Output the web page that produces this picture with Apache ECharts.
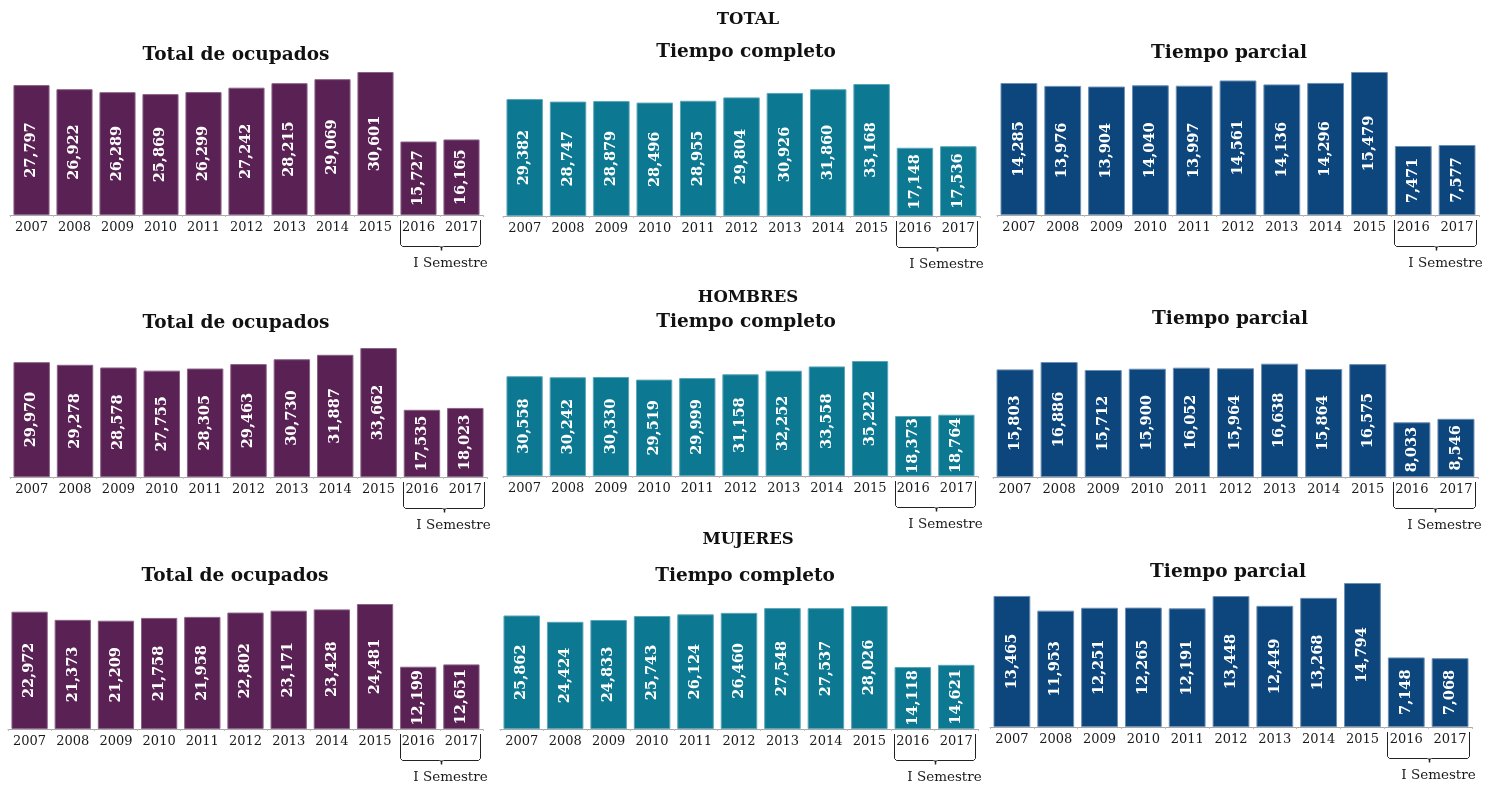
<!DOCTYPE html>
<html>
<head>
<meta charset="utf-8">
<script src="https://cdn.jsdelivr.net/npm/echarts@6/dist/echarts.min.js"></script>
<style>
  html, body { margin: 0; padding: 0; background: #fff; }
  #chart { width: 1491px; height: 785px; }
</style>
</head>
<body>
<div id="chart"></div>
<script>
const years = ['2007', '2008', '2009', '2010', '2011', '2012', '2013', '2014', '2015', '2016', '2017']

const totalOcupados = [27797, 26922, 26289, 25869, 26299, 27242, 28215, 29069, 30601, 15727, 16165]
const totalCompleto = [29382, 28747, 28879, 28496, 28955, 29804, 30926, 31860, 33168, 17148, 17536]
const totalParcial = [14285, 13976, 13904, 14040, 13997, 14561, 14136, 14296, 15479, 7471, 7577]

const hombresOcupados = [29970, 29278, 28578, 27755, 28305, 29463, 30730, 31887, 33662, 17535, 18023]
const hombresCompleto = [30558, 30242, 30330, 29519, 29999, 31158, 32252, 33558, 35222, 18373, 18764]
const hombresParcial = [15803, 16886, 15712, 15900, 16052, 15964, 16638, 15864, 16575, 8033, 8546]

const mujeresOcupados = [22972, 21373, 21209, 21758, 21958, 22802, 23171, 23428, 24481, 12199, 12651]
const mujeresCompleto = [25862, 24424, 24833, 25743, 26124, 26460, 27548, 27537, 28026, 14118, 14621]
const mujeresParcial = [13465, 11953, 12251, 12265, 12191, 13448, 12449, 13268, 14794, 7148, 7068]

const sectionTitles = ['TOTAL', 'HOMBRES', 'MUJERES']
const panelTitles = ['Total de ocupados', 'Tiempo completo', 'Tiempo parcial']
const semestreLabel = 'I Semestre'

const colors = ['#5a2154', '#0c7891', '#0c467c']
const borders = ['#8a6286', '#5aa6b9', '#6d8fb3']
const serif = '"DejaVu Serif", "Liberation Serif", serif'

// panel layout: grid box (left, right edge, top of tallest bar, baseline), title centre
const panels = [
  { data: totalOcupados, col: 0, left: 10, right: 483, top: 72, base: 215, tx: 236, ty: 54 },
  { data: totalCompleto, col: 1, left: 503, right: 980, top: 84, base: 216, tx: 746, ty: 51 },
  { data: totalParcial, col: 2, left: 997, right: 1479, top: 72, base: 215, tx: 1229, ty: 52 },
  { data: hombresOcupados, col: 0, left: 10, right: 487, top: 348, base: 477, tx: 236, ty: 322 },
  { data: hombresCompleto, col: 1, left: 503, right: 978, top: 361, base: 476, tx: 746, ty: 321 },
  { data: hombresParcial, col: 2, left: 993, right: 1478, top: 362, base: 477, tx: 1230, ty: 318 },
  { data: mujeresOcupados, col: 0, left: 8, right: 483, top: 604, base: 729, tx: 235, ty: 575 },
  { data: mujeresCompleto, col: 1, left: 500, right: 978, top: 606, base: 729, tx: 745, ty: 575 },
  { data: mujeresParcial, col: 2, left: 990, right: 1472, top: 583, base: 727, tx: 1228, ty: 571 }
]
const sectionY = [18, 296, 538]

const fmt = v => v.toLocaleString('en-US')

const titles = []
sectionTitles.forEach((t, i) => {
  titles.push({
    text: t, left: 748, top: sectionY[i] - 7, textAlign: 'center', padding: 0,
    textStyle: { fontFamily: serif, fontSize: 16.5, fontWeight: 'bold', color: '#111' }
  })
})

const grids = [], xAxes = [], yAxes = [], series = []
panels.forEach((p, i) => {
  titles.push({
    text: panelTitles[p.col], left: p.tx, top: p.ty - 8, textAlign: 'center', padding: 0,
    textStyle: { fontFamily: serif, fontSize: 18.5, fontWeight: 'bold', color: '#111' }
  })
  grids.push({ left: p.left, width: p.right - p.left, top: p.top, height: p.base - p.top })
  xAxes.push({
    type: 'category', gridIndex: i, data: years,
    axisLine: { lineStyle: { color: '#a9a9a9', width: 1 } },
    axisTick: { show: true, length: 2, lineStyle: { color: '#bdbdbd' } },
    axisLabel: { interval: 0, margin: 6, fontFamily: serif, fontSize: 13, color: '#1a1a1a' }
  })
  yAxes.push({ type: 'value', gridIndex: i, min: 0, max: 'dataMax', show: false, splitLine: { show: false } })
  series.push({
    type: 'bar', xAxisIndex: i, yAxisIndex: i, data: p.data,
    barCategoryGap: '16%',
    itemStyle: { color: colors[p.col], borderColor: borders[p.col], borderWidth: 1 },
    label: {
      show: true, position: 'inside', rotate: 90, formatter: d => fmt(d.value),
      fontFamily: serif, fontSize: 14.5, fontWeight: 'bold', color: '#fff'
    },
    silent: true, animation: false
  })
})

const chart = echarts.init(document.getElementById('chart'))
chart.setOption({
  animation: false,
  title: titles,
  grid: grids,
  xAxis: xAxes,
  yAxis: yAxes,
  series: series
})

// "I Semestre" bracket under the last two categories of each panel
const graphics = []
panels.forEach((p, i) => {
  const c16 = chart.convertToPixel({ xAxisIndex: i }, '2016')
  const c17 = chart.convertToPixel({ xAxisIndex: i }, '2017')
  const step = c17 - c16
  const x1 = Math.round(c16 - step * 0.43) + 0.5
  const x2 = Math.round(c17 + step * 0.43) + 0.5
  const yb = p.base + 31.5
  const mid = Math.round((x1 + x2) / 2) + 0.5
  const stroke = { stroke: '#222', lineWidth: 1, fill: null }
  graphics.push({
    type: 'polyline', silent: true,
    shape: { points: [[x1, p.base + 5], [x1, yb - 2], [x1 + 2, yb], [mid - 2, yb], [mid, yb + 1]] },
    style: stroke
  })
  graphics.push({
    type: 'polyline', silent: true,
    shape: { points: [[x2, p.base + 5], [x2, yb - 2], [x2 - 2, yb], [mid + 2, yb], [mid, yb + 1]] },
    style: stroke
  })
  graphics.push({
    type: 'line', silent: true,
    shape: { x1: mid, y1: yb, x2: mid, y2: yb + 4 },
    style: { stroke: '#222', lineWidth: 1.5 }
  })
  graphics.push({
    type: 'text', silent: true,
    style: {
      text: semestreLabel, x: mid + 9, y: p.base + 48, align: 'center', verticalAlign: 'middle',
      font: '13.5px ' + serif, fill: '#1a1a1a'
    }
  })
})
chart.setOption({ graphic: graphics })
</script>
</body>
</html>
